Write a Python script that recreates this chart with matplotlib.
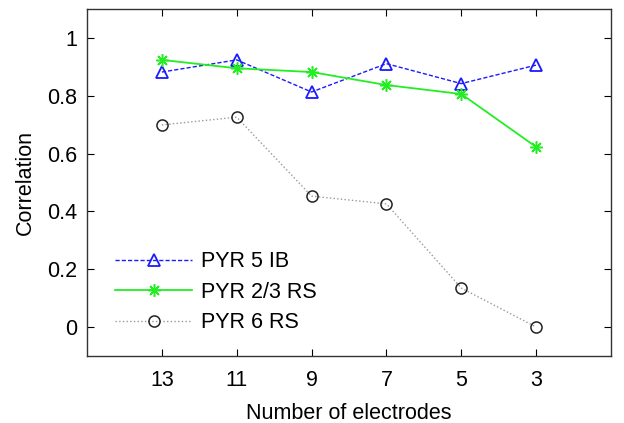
import numpy as np
import matplotlib.pyplot as plt

plt.rcParams['font.family'] = ['Liberation Sans', 'DejaVu Sans']

electrodes = [13, 11, 9, 7, 5, 3]
pyr5_ib = [0.882, 0.924, 0.813, 0.911, 0.842, 0.906]
pyr23_rs = [0.924, 0.895, 0.882, 0.837, 0.806, 0.623]
pyr6_rs = [0.699, 0.726, 0.453, 0.426, 0.135, 0.0]

fig = plt.figure(figsize=(6.24, 4.23), dpi=100)
ax = fig.add_axes([87 / 624, 67 / 423, 524 / 624, 347 / 423])

ax.plot(electrodes, pyr5_ib, color='#1a1aff', linestyle='--', linewidth=1.0,
        marker='^', markersize=9, markerfacecolor='none', markeredgewidth=1.3,
        dashes=(3, 1.5), label='PYR 5 IB')
ax.plot(electrodes, pyr23_rs, color='#22ee22', linestyle='-', linewidth=1.3,
        marker=(8, 2, 0), markersize=9, markeredgewidth=1.1, label='PYR 2/3 RS')
ax.plot(electrodes, pyr6_rs, color='#999999', linestyle=':', linewidth=1.0,
        marker='o', markersize=8, markerfacecolor='none', markeredgecolor='#222222',
        markeredgewidth=1.1, label='PYR 6 RS')

ax.set_xlim(15, 1)
ax.set_ylim(-0.1, 1.1)
ax.set_xticks(electrodes)
ax.set_yticks([0, 0.2, 0.4, 0.6, 0.8, 1])
ax.set_yticklabels(['0', '0.2', '0.4', '0.6', '0.8', '1'])
ax.tick_params(direction='in', top=True, right=True, labelsize=15.5, length=5, pad=7)
ax.tick_params(axis='x', pad=10)
for s in ax.spines.values():
    s.set_linewidth(1.0)
    s.set_color('#333333')

ax.set_xlabel('Number of electrodes', fontsize=15.5, labelpad=9)
ax.set_ylabel('Correlation', fontsize=15.5, labelpad=8)

ax.legend(loc='lower left', bbox_to_anchor=(0.053, 0.065), frameon=False,
          fontsize=15.5, handlelength=3.6, handletextpad=0.4, labelspacing=0.45,
          borderpad=0, borderaxespad=0)

fig.savefig('out.png', dpi=100)
